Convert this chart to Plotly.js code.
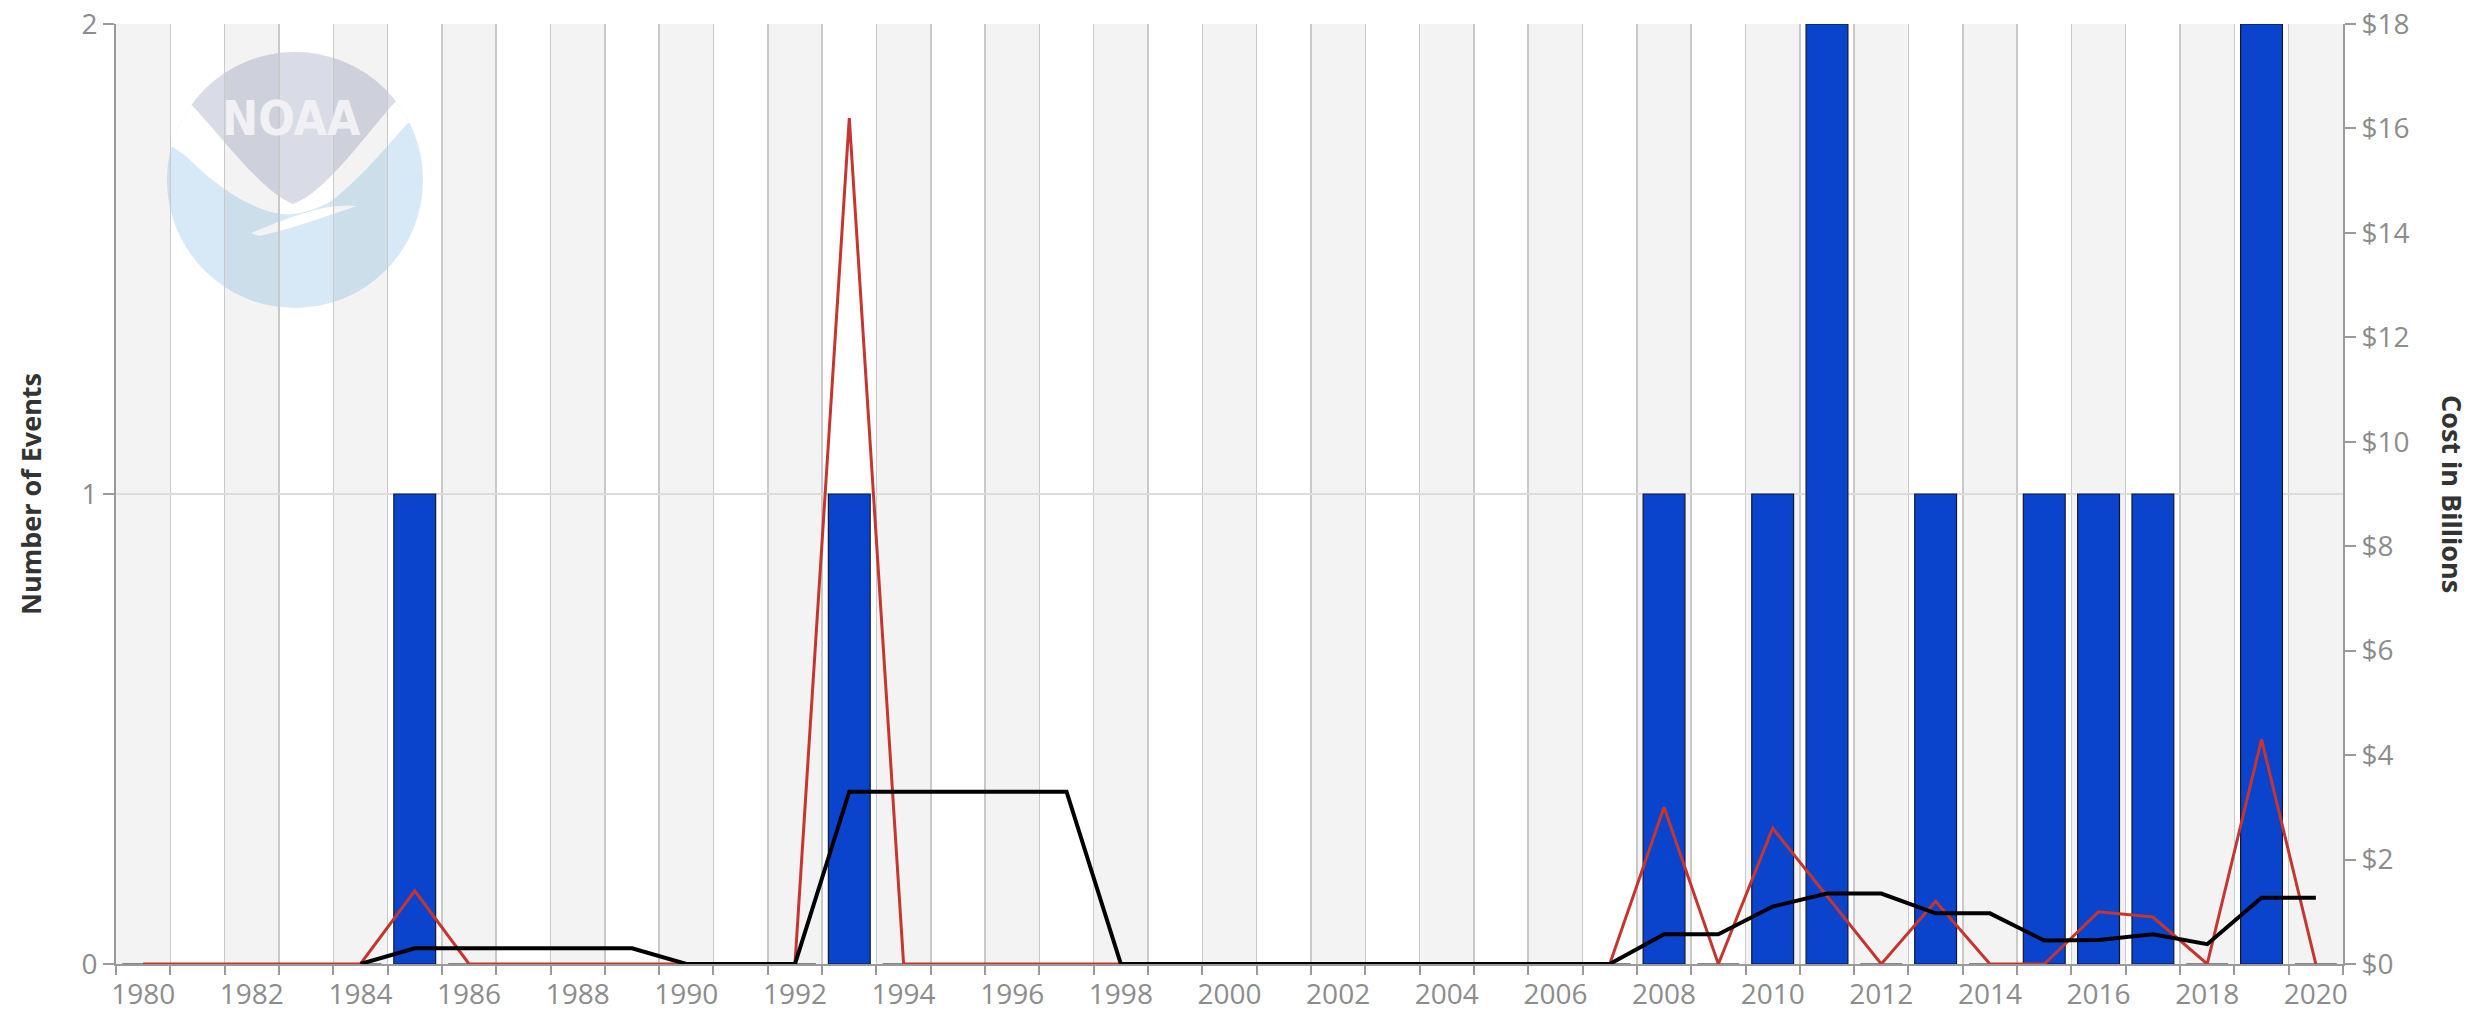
<!DOCTYPE html>
<html>
<head>
<meta charset="utf-8">
<script src="https://cdn.plot.ly/plotly-3.0.1.min.js"></script>
<style>html,body{margin:0;padding:0;background:#fff;}</style>
</head>
<body>
<div id="chart" style="width:2471px;height:1016px;"></div>
<script>
// ---------------- DATA ----------------
const years = [1980,1981,1982,1983,1984,1985,1986,1987,1988,1989,
               1990,1991,1992,1993,1994,1995,1996,1997,1998,1999,
               2000,2001,2002,2003,2004,2005,2006,2007,2008,2009,
               2010,2011,2012,2013,2014,2015,2016,2017,2018,2019,2020];
// Number of events per year (bars, left axis)
const events = [0,0,0,0,0,1,0,0,0,0,
                0,0,0,1,0,0,0,0,0,0,
                0,0,0,0,0,0,0,0,1,0,
                1,2,0,1,0,1,1,1,0,2,0];
// Annual cost in billions (red line, right axis)
const costBillions = [0,0,0,0,0,1.4,0,0,0,0,
                      0,0,0,16.2,0,0,0,0,0,0,
                      0,0,0,0,0,0,0,0,3.0,0,
                      2.6,1.3,0,1.2,0,0,1.0,0.9,0,4.3,0];
// Average cost in billions (black line, right axis)
const avgCostBillions = [null,null,null,null,0,0.3,0.3,0.3,0.3,0.3,
                         0,0,0,3.3,3.3,3.3,3.3,3.3,0,0,
                         0,0,0,0,0,0,0,0,0.57,0.57,
                         1.1,1.35,1.35,0.97,0.97,0.45,0.46,0.57,0.38,1.27,1.27];
const xTickYears = [1980,1982,1984,1986,1988,1990,1992,1994,1996,1998,2000,
                    2002,2004,2006,2008,2010,2012,2014,2016,2018,2020];
const eventTicks = [0,1,2];
const costTicks = [0,2,4,6,8,10,12,14,16,18];

// ---------------- STYLE ----------------
const tickFont = {family: 'Open Sans, sans-serif', size: 28, color: '#8c8c8c'};
const titleFont = {family: 'Open Sans, sans-serif', size: 27, color: '#333333', weight: 'bold'};
const axisGrey = '#9a9a9a';

const boundaries = years.map(y => y - 0.5).concat([years[years.length - 1] + 0.5]);

const bandShapes = years.filter(y => y % 2 === 0).map(y => ({
  type: 'rect', xref: 'x', yref: 'paper', x0: y - 0.5, x1: y + 0.5, y0: 0, y1: 1,
  fillcolor: 'rgba(0,0,0,0.048)', line: {width: 0}, layer: 'below'
}));

// NOAA watermark (drawn as an svg picture, the word NOAA is an annotation)
const logoSvg = '<svg xmlns="http://www.w3.org/2000/svg" width="256" height="256" viewBox="0 0 256 256">' +
  '<defs><clipPath id="c"><circle cx="128" cy="128" r="128"/></clipPath></defs>' +
  '<g clip-path="url(#c)">' +
  '<rect x="0" y="0" width="256" height="256" fill="#d7e9f6"/>' +
  '<path d="M -10,-10 L 266,-10 L 266,66 L 241,71 C 225,88 200,120 166,148 C 145,160 128,163 116,162 C 90,160 55,140 20,105 L 0,91 L -10,88 Z" fill="#ffffff"/>' +
  '<path d="M 84,181 C 120,166 160,150 190,154 C 162,163 122,178 92,184 Z" fill="#ffffff"/>' +
  '<path d="M 23,51 C 55,85 95,140 126,152 C 160,140 200,80 230,48 L 290,-30 L -30,-30 Z" fill="#d9dce6"/>' +
  '</g></svg>';
const logoSrc = 'data:image/svg+xml;base64,' + btoa(logoSvg);

// plot area in px: x 116..2343, y 24..964
const plotL = 116, plotR = 2343, plotT = 24, plotB = 964;
const pw = plotR - plotL, ph = plotB - plotT;
const px = v => (v - plotL) / pw;
const py = v => (plotB - v) / ph;

const traces = [
  {
    type: 'bar', x: years, y: events, yaxis: 'y', width: 0.77,
    marker: {color: '#0b44cc', line: {color: '#101830', width: 1.2}},
    hoverinfo: 'x+y', name: 'Events'
  },
  {
    type: 'scatter', mode: 'lines', x: years, y: costBillions, yaxis: 'y2',
    line: {color: '#c4362f', width: 3}, cliponaxis: false, name: 'Cost'
  },
  {
    type: 'scatter', mode: 'lines', x: years, y: avgCostBillions, yaxis: 'y2',
    line: {color: '#000000', width: 4}, cliponaxis: false, name: 'Average cost'
  }
];

const layout = {
  width: 2471, height: 1016,
  margin: {l: plotL, r: 2471 - plotR, t: plotT, b: 1016 - plotB, pad: 0},
  paper_bgcolor: '#ffffff', plot_bgcolor: '#ffffff',
  showlegend: false,
  bargap: 0,
  xaxis: {
    type: 'linear', range: [1979.5, 2020.5], fixedrange: true,
    tickmode: 'array', tickvals: xTickYears, ticktext: xTickYears.map(String),
    ticks: 'outside', ticklen: 4, tickcolor: 'rgba(0,0,0,0)',
    tickfont: tickFont, showgrid: false, zeroline: false,
    showline: true, linecolor: axisGrey, linewidth: 2,
    minor: {tickmode: 'array', tickvals: boundaries, ticks: 'outside', ticklen: 9,
            tickcolor: axisGrey, tickwidth: 2, showgrid: true, gridcolor: '#c9c9c9', gridwidth: 1.5}
  },
  yaxis: {
    range: [0, 2], tickmode: 'array', tickvals: eventTicks, ticktext: eventTicks.map(String),
    ticks: 'outside', ticklen: 11, tickcolor: axisGrey, tickwidth: 2,
    tickfont: tickFont, showgrid: true, gridcolor: '#dcdcdc', gridwidth: 1.5, zeroline: false,
    showline: true, linecolor: axisGrey, linewidth: 2,
    title: {text: 'Number of Events', font: titleFont, standoff: 32}
  },
  yaxis2: {
    overlaying: 'y', side: 'right', range: [0, 18],
    tickmode: 'array', tickvals: costTicks, ticktext: costTicks.map(v => '$' + v),
    ticks: 'outside', ticklen: 11, tickcolor: axisGrey, tickwidth: 2,
    tickfont: tickFont, showgrid: false, zeroline: false,
    showline: true, linecolor: axisGrey, linewidth: 2
  },
  shapes: bandShapes,
  images: [{
    source: logoSrc, xref: 'paper', yref: 'paper',
    x: px(167), y: py(52), sizex: 256 / pw, sizey: 256 / ph,
    xanchor: 'left', yanchor: 'top', sizing: 'stretch', layer: 'below'
  }],
  annotations: [
    {
      text: 'NOAA', xref: 'paper', yref: 'paper', x: px(291), y: py(118),
      showarrow: false, xanchor: 'center', yanchor: 'middle',
      font: {family: 'Liberation Sans Narrow, DejaVu Sans Condensed, sans-serif', size: 48, color: '#f1f1f5', weight: 'bold'}
    },
    {
      text: 'Cost in Billions', xref: 'paper', yref: 'paper', x: px(2453), y: 0.5,
      showarrow: false, textangle: 90, xanchor: 'center', yanchor: 'middle',
      font: titleFont
    }
  ]
};

Plotly.newPlot('chart', traces, layout, {displayModeBar: false, staticPlot: true});
</script>
</body>
</html>
